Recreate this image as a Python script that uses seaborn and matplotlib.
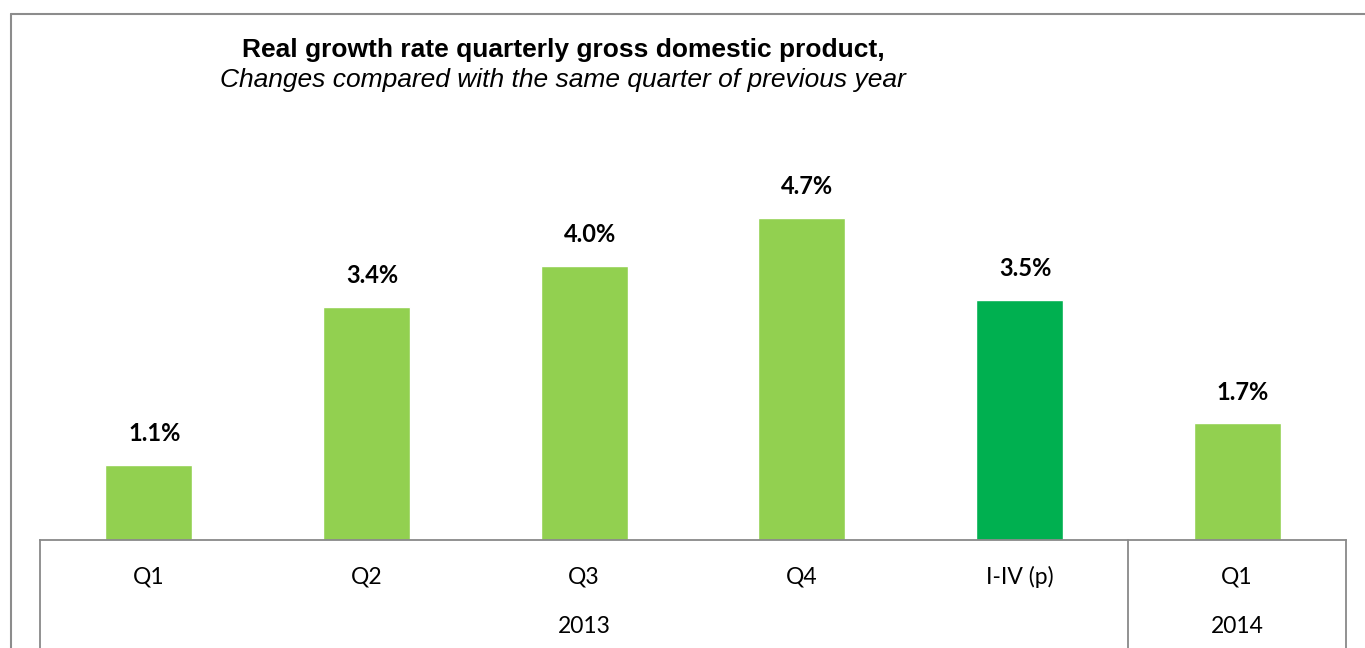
import pandas as pd
import matplotlib.pyplot as plt
import seaborn as sns
from matplotlib.lines import Line2D

# data
periods = ["2013 Q1", "2013 Q2", "2013 Q3", "2013 Q4", "2013 I-IV (p)", "2014 Q1"]
tick_labels = ["Q1", "Q2", "Q3", "Q4", "I-IV (p)", "Q1"]
growth = [1.1, 3.4, 4.0, 4.7, 3.5, 1.7]
years = ["2013", "2014"]
year_span = [(0, 4), (5, 5)]
bar_colors = ["#92D050", "#92D050", "#92D050", "#92D050", "#00B050", "#92D050"]

df = pd.DataFrame({"period": periods, "growth": growth})

sns.set_theme(style="white")
plt.rcParams['font.family'] = ['Lato', 'DejaVu Sans']

fig = plt.figure(figsize=(13.65, 6.48), dpi=100)
ax = fig.add_axes([40 / 1365, 108 / 648, 1306 / 1365, 411.6 / 648])

sns.barplot(data=df, x="period", y="growth", hue="period", palette=bar_colors,
            width=0.4, legend=False, saturation=1, ax=ax)

ax.set_ylim(0, 6)
ax.set_xlim(-0.5, 5.5)
ax.set_xlabel("")
ax.set_ylabel("")
ax.set_xticks([])
ax.set_yticks([])
for side in ["top", "left", "right"]:
    ax.spines[side].set_visible(False)
ax.spines["bottom"].set_color("#898989")
ax.spines["bottom"].set_linewidth(1.3)

# value labels
for i, v in enumerate(growth):
    ax.annotate(f"{v:.1f}%", (i, v), xytext=(4, 14), textcoords="offset points",
                ha="center", va="bottom", fontsize=17, fontweight="bold", color="black")

# category labels and year labels under the axis
tr = ax.get_xaxis_transform()
for i, lab in enumerate(tick_labels):
    ax.text(i, -0.09, lab, transform=tr, ha="center", va="center", fontsize=16.5, color="black")
for yr, (a, b) in zip(years, year_span):
    ax.text((a + b) / 2, -0.211, yr, transform=tr, ha="center", va="center", fontsize=16.5, color="black")

for xv in [-0.5, 4.5, 5.5]:
    ax.add_line(Line2D([xv, xv], [0, -0.4], transform=tr, color="#898989", lw=1.3, clip_on=False))

# outer frame
fig.add_artist(Line2D([11 / 1365, 11 / 1365], [0, 1 - 14 / 648], color="#8c8c8c", lw=1.5))
fig.add_artist(Line2D([11 / 1365, 1], [1 - 14 / 648, 1 - 14 / 648], color="#8c8c8c", lw=1.5))

# titles
fig.text(563 / 1365, 1 - 50 / 648, "Real growth rate quarterly gross domestic product,",
         ha="center", va="center", fontsize=19, fontweight="bold", color="black",
         family=["Liberation Sans"])
fig.text(563 / 1365, 1 - 80 / 648, "Changes compared with the same quarter of previous year",
         ha="center", va="center", fontsize=19, style="italic", color="black",
         family=["Liberation Sans"])

fig.savefig("out.png", dpi=100)
